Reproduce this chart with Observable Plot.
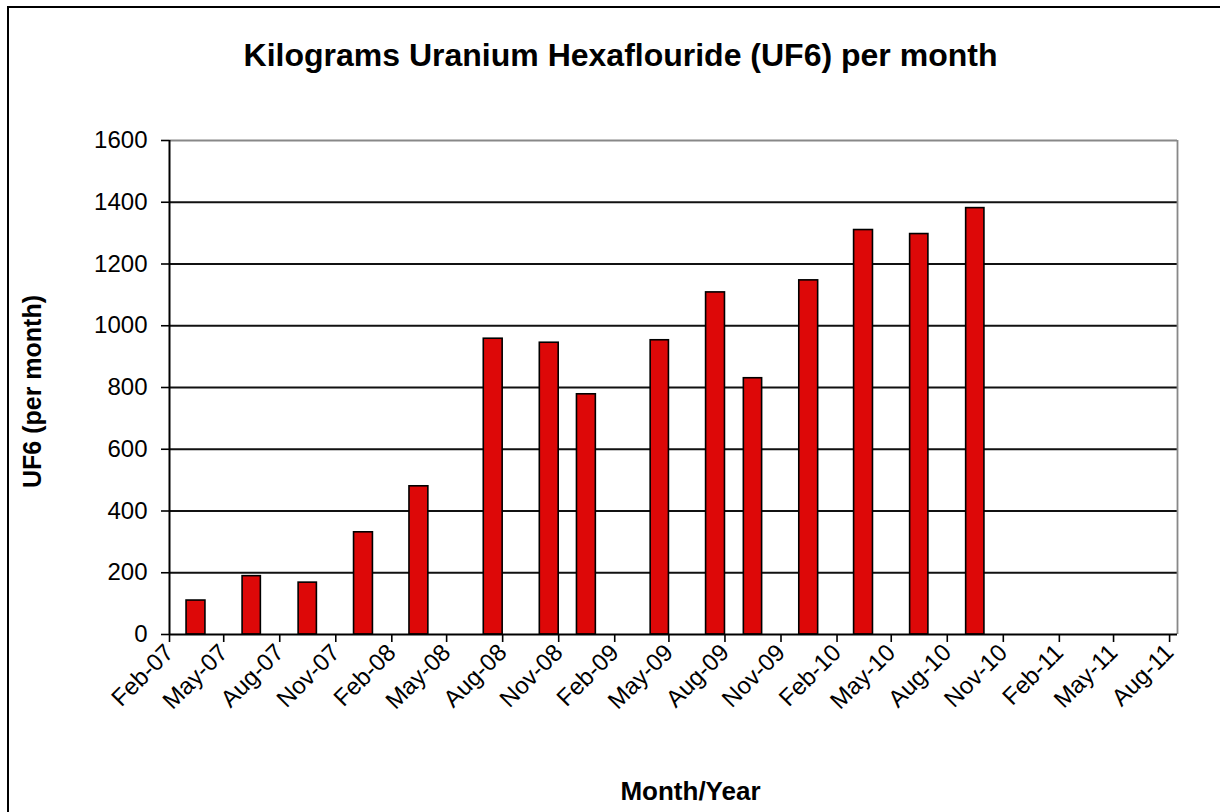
<!DOCTYPE html>
<html><head><meta charset="utf-8">
<script src="https://cdn.jsdelivr.net/npm/d3@7"></script>
<script src="https://cdn.jsdelivr.net/npm/@observablehq/plot@0.6"></script>
<style>
html,body{margin:0;padding:0;background:#fff;}
#wrap{position:relative;width:1220px;height:812px;overflow:hidden;}
#border{position:absolute;left:7px;top:6px;width:1260px;height:860px;border:2px solid #000;box-sizing:border-box;pointer-events:none;}
</style></head><body><div id="wrap"><div id="border"></div></div>
<script>
const months = ["Mar-07","Jun-07","Sep-07","Dec-07","Mar-08","Jul-08","Oct-08","Dec-08","Apr-09","Jul-09","Sep-09","Dec-09","Mar-10","Jun-10","Sep-10"];
const values = [110,189,168,331,480,958,945,778,953,1108,830,1147,1310,1297,1381];
const tickLabels = ["Feb-07","May-07","Aug-07","Nov-07","Feb-08","May-08","Aug-08","Nov-08","Feb-09","May-09","Aug-09","Nov-09","Feb-10","May-10","Aug-10","Nov-10","Feb-11","May-11","Aug-11"];
const yTicks = [0,200,400,600,800,1000,1200,1400,1600];
const titleText = "Kilograms Uranium Hexaflouride (UF6) per month";
const xLabel = "Month/Year";
const yLabel = "UF6 (per month)";

const parse = d3.utcParse("%b-%y");
const data = months.map((m,i)=>({start: parse(m), end: d3.utcMonth.offset(parse(m),1), value: values[i]}));
const tickDates = tickLabels.map(parse);
const xmin = parse("Feb-07");
const xmax = new Date(Date.UTC(2011,7,14));

const chart = Plot.plot({
  width:1220, height:812,
  marginLeft:169, marginRight:43, marginTop:140, marginBottom:178,
  style:{fontFamily:"'Liberation Sans', Arial, sans-serif", fontSize:"24px", color:"#000", background:"transparent"},
  x:{type:"utc", domain:[xmin, xmax]},
  y:{domain:[0,1600]},
  marks:[
    Plot.ruleY(yTicks.filter(v=>v>0 && v<1600), {stroke:"#111", strokeWidth:1.8}),
    Plot.ruleY([1600], {stroke:"#888", strokeWidth:1.8}),
    Plot.ruleX([xmax], {stroke:"#888", strokeWidth:1.8}),
    Plot.rectY(data, {x1:"start", x2:"end", y:"value", fill:"#dd0808", stroke:"#000", strokeWidth:1.6}),
    Plot.axisY({ticks:yTicks, tickSize:8, tickPadding:14, label:null, fontSize:24, strokeWidth:1.6, tickFormat:d=>String(d)}),
    Plot.axisX({ticks:tickDates, tickFormat:d3.utcFormat("%b-%y"), tickRotate:-45, tickSize:8, tickPadding:6, label:null, fontSize:24, strokeWidth:1.6}),
    Plot.ruleY([0], {stroke:"#000", strokeWidth:2}),
    Plot.ruleX([xmin], {stroke:"#000", strokeWidth:2}),
    Plot.text([titleText], {text:d=>d, frameAnchor:"top", dx:-53, dy:-75, lineAnchor:"bottom", textAnchor:"middle", fontSize:32, fontWeight:"bold"}),
    Plot.text([xLabel], {text:d=>d, frameAnchor:"bottom", dx:17, dy:165, lineAnchor:"bottom", textAnchor:"middle", fontSize:26, fontWeight:"bold"}),
    Plot.text([yLabel], {text:d=>d, frameAnchor:"left", dx:-137, dy:4, rotate:-90, lineAnchor:"middle", textAnchor:"middle", fontSize:25, fontWeight:"bold"})
  ]
});
chart.style.position = "absolute";
chart.style.left = "0";
chart.style.top = "0";
document.getElementById("wrap").prepend(chart);
</script>
</body></html>
